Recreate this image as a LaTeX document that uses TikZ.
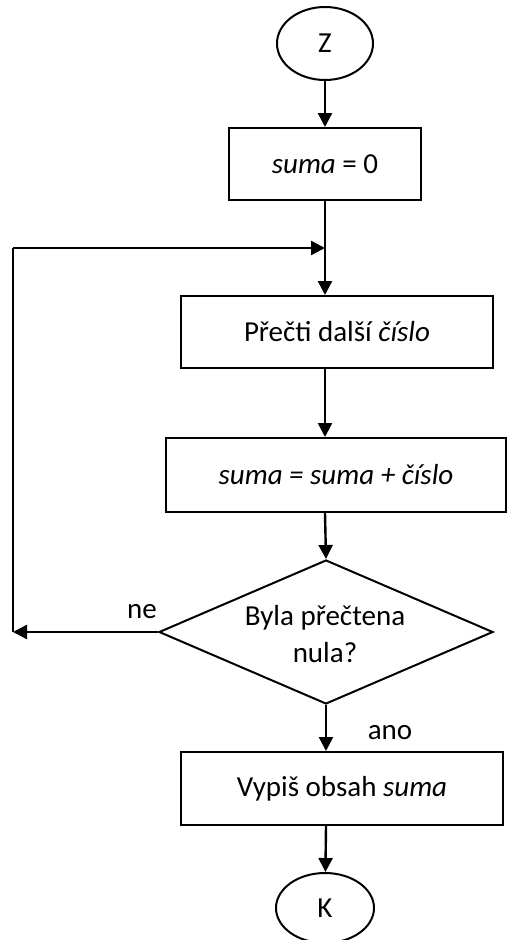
\documentclass[tikz,border=0pt]{standalone}
\usepackage{fontspec}
\setmainfont{Carlito}
\usetikzlibrary{shapes.geometric,arrows.meta}
\begin{document}
\begin{tikzpicture}[x=1pt,y=-1pt,
  every node/.style={font=\fontsize{29}{35}\selectfont, inner sep=0pt},
  box/.style={draw, line width=2pt, rectangle, align=center},
  term/.style={draw, line width=2pt, ellipse},
  dec/.style={draw, line width=2pt, diamond, align=center},
  arr/.style={line width=2.4pt, -{Triangle[length=14pt,width=14pt]}},
  ln/.style={line width=2.4pt}
]
\useasboundingbox[fill=white] (0,0) rectangle (510,940);
\node[term, minimum width=96pt, minimum height=73pt] (z) at (325,43.5) {Z};
\node[box, minimum width=192pt, minimum height=72pt] (b1) at (325,164) {\textit{suma} = 0};
\node[box, minimum width=312pt, minimum height=72pt] (b2) at (337,332) {Přečti další \textit{číslo}};
\node[box, minimum width=340pt, minimum height=74pt] (b3) at (336,475) {\textit{suma = suma + číslo}};
\node[dec, minimum width=334pt, minimum height=144pt, aspect=2.32] (d) at (326,632) {};
\node (dt1) at (325,618) {Byla přečtena};
\node (dt2) at (325,653) {nula?};
\node[box, minimum width=322pt, minimum height=73pt] (b4) at (342,788.5) {Vypiš obsah \textit{suma}};
\node[term, minimum width=98pt, minimum height=70pt] (k) at (325,908) {K};
\node (ne) at (142,612) {ne};
\node (ano) at (390,733) {ano};
\coordinate (lb) at (13,632);
\coordinate (lt) at (13,248);
\coordinate (jn) at (325,248);
\draw[arr] (z) -- (b1);
\draw[arr] (b1) -- (b1.south |- b2.north);
\draw[arr] (b1.south |- b2.south) -- (b1.south |- b3.north);
\draw[arr] (b1.south |- b3.south) -- (d.north);
\draw[arr] (d.south) -- (d.south |- b4.north);
\draw[arr] (d.south |- b4.south) -- (k);
\draw[arr] (d.west) -- (lb);
\draw[ln] (lb) -- (lt);
\draw[arr] (lt) -- (jn);
\end{tikzpicture}
\end{document}
